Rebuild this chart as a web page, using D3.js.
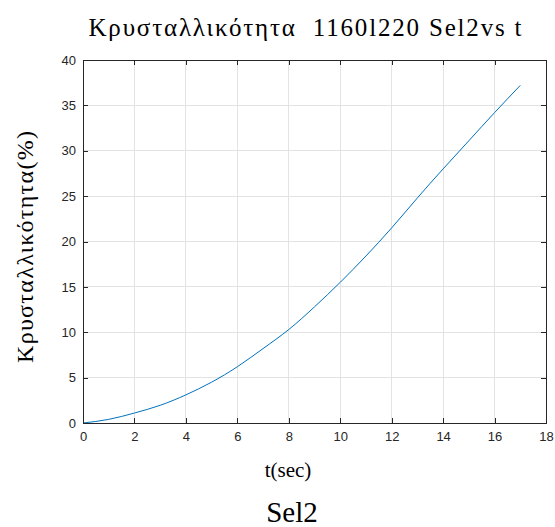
<!DOCTYPE html>
<html>
<head>
<meta charset="utf-8">
<script src="https://cdn.jsdelivr.net/npm/d3@7"></script>
<style>
  html, body { margin: 0; padding: 0; background: #fff; }
  svg { display: block; }
  .serif { font-family: "Liberation Serif", "Tinos", "DejaVu Serif", "Noto Serif", serif; }
  .sans { font-family: "Liberation Sans", "Arimo", Arial, sans-serif; }
</style>
</head>
<body>
<script>
// Crystallinity curve, time in seconds vs percent
const tValues = [0, 1, 2, 3, 4, 5, 6, 7, 8, 9, 10, 11, 12, 13, 14, 15, 16, 17];
const crystValues = [0, 0.4, 1.1, 1.95, 3.1, 4.5, 6.2, 8.2, 10.3, 12.8, 15.5, 18.4, 21.5, 24.8, 28.0, 31.1, 34.2, 37.2];
const xTicks = [0, 2, 4, 6, 8, 10, 12, 14, 16, 18];
const yTicks = [0, 5, 10, 15, 20, 25, 30, 35, 40];

const W = 555, H = 527;
const plotLeft = 83, plotRight = 546, plotTop = 60, plotBottom = 423;
const axisColor = "#262626";
const gridColor = "#e3e3e3";
const lineColor = "#0072BD";

const svg = d3.select("body").append("svg").attr("width", W).attr("height", H);

const x = d3.scaleLinear().domain([0, 18]).range([plotLeft, plotRight]);
const y = d3.scaleLinear().domain([0, 40]).range([plotBottom, plotTop]);

// Grid
svg.append("g").selectAll("line").data(xTicks).join("line")
  .attr("x1", d => x(d)).attr("x2", d => x(d))
  .attr("y1", plotTop).attr("y2", plotBottom)
  .attr("stroke", gridColor).attr("stroke-width", 1).attr("shape-rendering", "crispEdges");
svg.append("g").selectAll("line").data(yTicks).join("line")
  .attr("x1", plotLeft).attr("x2", plotRight)
  .attr("y1", d => y(d)).attr("y2", d => y(d))
  .attr("stroke", gridColor).attr("stroke-width", 1).attr("shape-rendering", "crispEdges");

// Data line
svg.append("path")
  .datum(tValues.map((t, i) => [t, crystValues[i]]))
  .attr("fill", "none")
  .attr("stroke", lineColor)
  .attr("stroke-width", 1)
  .attr("d", d3.line().curve(d3.curveNatural).x(d => x(d[0])).y(d => y(d[1])));

// Axes (ticks pointing inward, box on all four sides)
function styleAxis(g) {
  g.selectAll("path").attr("stroke", axisColor).attr("shape-rendering", "crispEdges");
  g.selectAll("line").attr("stroke", axisColor).attr("shape-rendering", "crispEdges");
  g.selectAll("text").attr("fill", axisColor).attr("class", "sans").style("font-size", "13px");
  g.attr("font-family", null);
}
const xAxis = svg.append("g").attr("transform", `translate(0,${plotBottom})`)
  .call(d3.axisBottom(x).tickValues(xTicks).tickSizeInner(-5).tickSizeOuter(0).tickPadding(9).tickFormat(d3.format("d")));
styleAxis(xAxis);
const xAxisTop = svg.append("g").attr("transform", `translate(0,${plotTop})`)
  .call(d3.axisTop(x).tickValues(xTicks).tickSizeInner(-5).tickSizeOuter(0).tickFormat(""));
styleAxis(xAxisTop);
const yAxis = svg.append("g").attr("transform", `translate(${plotLeft},0)`)
  .call(d3.axisLeft(y).tickValues(yTicks).tickSizeInner(-5).tickSizeOuter(0).tickPadding(7).tickFormat(d3.format("d")));
styleAxis(yAxis);
const yAxisRight = svg.append("g").attr("transform", `translate(${plotRight},0)`)
  .call(d3.axisRight(y).tickValues(yTicks).tickSizeInner(-5).tickSizeOuter(0).tickFormat(""));
styleAxis(yAxisRight);

// Titles and labels
svg.append("text").attr("class", "serif").attr("x", 305).attr("y", 36).attr("text-anchor", "middle")
  .style("font-size", "25px").attr("fill", "#000")
  .attr("xml:space", "preserve")
  .attr("textLength", 433).attr("lengthAdjust", "spacing")
  .text("Κρυσταλλικότητα  1160l220 Sel2vs t");
svg.append("text").attr("class", "serif").attr("x", 288).attr("y", 477).attr("text-anchor", "middle")
  .style("font-size", "21px").attr("fill", "#000")
  .text("t(sec)");
svg.append("text").attr("class", "serif").attr("x", 292).attr("y", 522).attr("text-anchor", "middle")
  .style("font-size", "29px").attr("fill", "#000")
  .text("Sel2");
svg.append("text").attr("class", "serif")
  .attr("transform", `translate(33,247) rotate(-90)`)
  .attr("text-anchor", "middle")
  .style("font-size", "24px").attr("fill", "#000")
  .attr("textLength", 232).attr("lengthAdjust", "spacing")
  .text("Κρυσταλλικότητα(%)");
</script>
</body>
</html>
